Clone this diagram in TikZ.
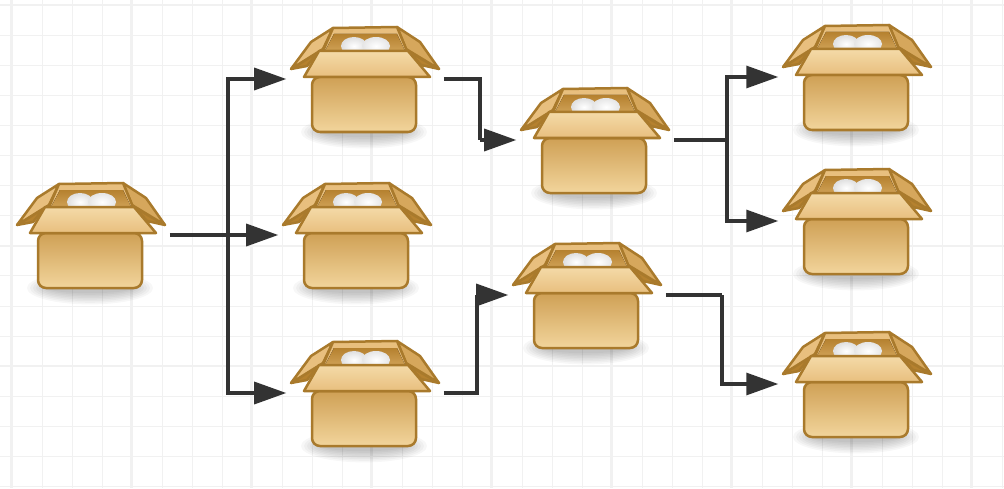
\documentclass[tikz,border=0pt]{standalone}
\usepackage{tikz}
\usetikzlibrary{arrows.meta}
\definecolor{edgebrown}{HTML}{A97A2C}
\definecolor{gridgray}{HTML}{F1F1F1}
\definecolor{linkgray}{HTML}{333333}
\definecolor{tanA}{HTML}{CFA055}
\definecolor{tanB}{HTML}{F2D59C}
\definecolor{tanC}{HTML}{F4DAA8}
\definecolor{tanD}{HTML}{E8BF7E}
\definecolor{tanE}{HTML}{B5812F}
\definecolor{tanF}{HTML}{D6A75C}
\tikzset{
  crate/.style={minimum width=1.56cm,minimum height=1.1cm,inner sep=0pt},
  link/.style={line width=0.032cm,draw=linkgray,-{Triangle[length=0.32cm,width=0.22cm]}},
  stub/.style={line width=0.032cm,draw=linkgray},
  panel/.style={draw=edgebrown,line width=0.025cm,line join=round},
  pics/cratepic/.style={code={
    \foreach \k in {1,...,8}
      \fill[black,opacity=0.03] (-1,53) ellipse ({66-3*\k} and {18-1.6*\k});
    \draw[panel,fill=tanE] (-74,-10) -- (-46,-28) -- (-58,-13) -- cycle;
    \draw[panel,fill=tanE] (74,-10) -- (43,-28) -- (56,-14) -- cycle;
    \draw[panel,fill=tanD] (-74,-10) -- (-54,-37) -- (-32,-51) -- (-42,-30) -- cycle;
    \draw[panel,fill=tanF] (74,-10) -- (55,-37) -- (32,-52) -- (41,-30) -- cycle;
    \draw[panel,fill=tanD] (-32,-51) -- (32,-52) -- (42,-28) -- (-42,-28) -- cycle;
    \fill[top color=tanE,bottom color=tanA] (-31,-45) -- (32,-45) -- (40,-28) -- (-40,-28) -- cycle;
    \shade[inner color=white,outer color=gray!25!white] (-11,-33) ellipse (13 and 9);
    \shade[inner color=white,outer color=gray!20!white] (11,-33) ellipse (14 and 9);
    \draw[panel,rounded corners=0.08cm,top color=tanA,bottom color=tanB] (-53,-2) rectangle (51,53);
    \draw[panel,top color=tanC,bottom color=tanD] (-61,-2) -- (-46,-28) -- (43,-28) -- (65,-2) -- cycle;
  }},
}
\newcommand{\crateat}[3]{
  \node[crate] (#1) at (#2,#3) {};
  \pic at (#1) {cratepic};
}
\begin{document}
\begin{tikzpicture}[x=0.01cm,y=-0.01cm]
\useasboundingbox (0,0) rectangle (1004,488);
\fill[white] (0,0) rectangle (1004,488);
\foreach \i in {0,...,33}
  \draw[gridgray,line width=0.01cm] ({12+30*\i},0) -- ({12+30*\i},488);
\foreach \i in {0,...,16}
  \draw[gridgray,line width=0.01cm] (0,{5+30.1*\i}) -- (1004,{5+30.1*\i});
\foreach \i in {0,...,8}
  \draw[gridgray,line width=0.015cm] ({11+120*\i},0) -- ({11+120*\i},488);
\foreach \i in {0,...,4}
  \draw[gridgray,line width=0.015cm] (0,{5+120.4*\i}) -- (1004,{5+120.4*\i});
\crateat{src}{91}{235}
\crateat{midA}{365}{79}
\crateat{midB}{357}{235}
\crateat{midC}{365}{393}
\crateat{nextA}{595}{140}
\crateat{nextB}{587}{295}
\crateat{endA}{857}{77}
\crateat{endB}{857}{221}
\crateat{endC}{857}{384}
\coordinate (splitA) at (228,235);
\coordinate (splitB) at (480,140);
\coordinate (splitC) at (477,295);
\coordinate (splitD) at (727,140);
\coordinate (splitE) at (722,295);
\draw[link] (src.east) -- (midB.west);
\draw[link] (splitA) |- (midA.west);
\draw[link] (splitA) |- (midC.west);
\draw[stub] (midA.east) -| (splitB);
\draw[link] (splitB) -- (nextA.west);
\draw[stub] (midC.east) -| (splitC);
\draw[link] (splitC) -- (nextB.west);
\draw[stub] (nextA.east) -- (splitD);
\draw[link] (splitD) |- (endA.west);
\draw[link] (splitD) |- (endB.west);
\draw[stub] (nextB.east) -| (splitE);
\draw[link] (splitE) |- (endC.west);
\end{tikzpicture}
\end{document}
